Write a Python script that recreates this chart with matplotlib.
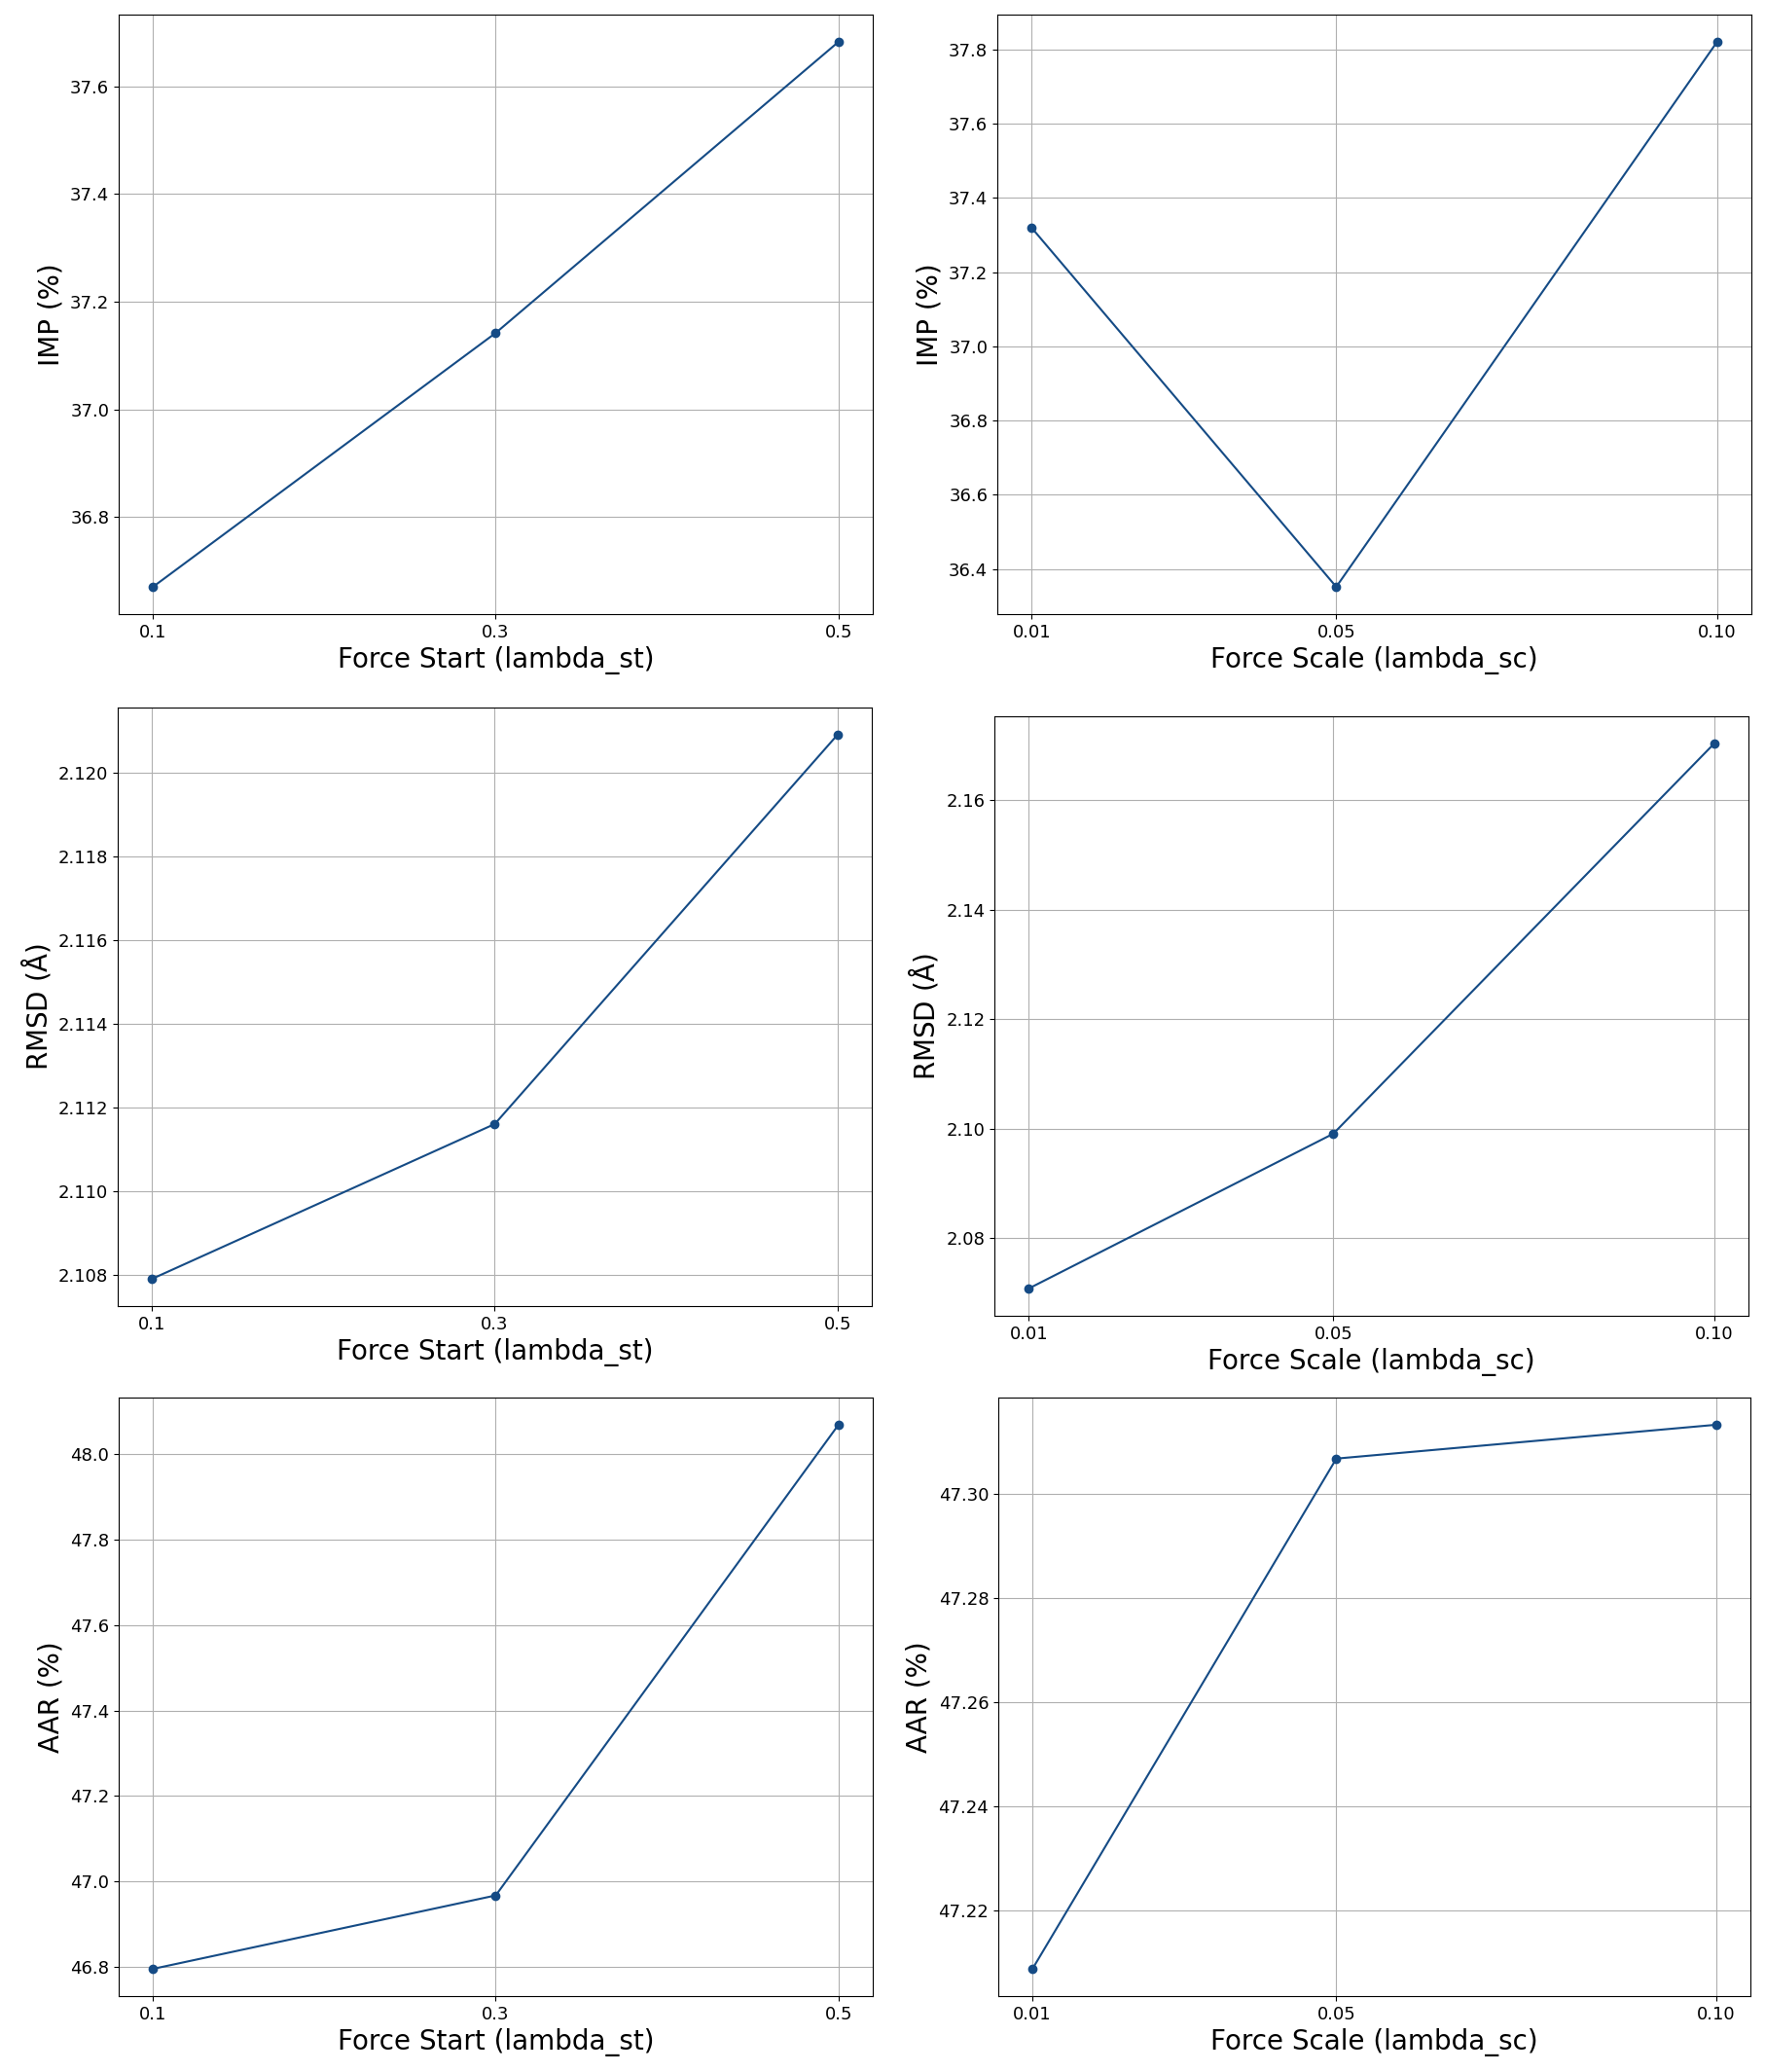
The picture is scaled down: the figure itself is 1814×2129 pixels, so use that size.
import matplotlib
matplotlib.use("Agg")
import matplotlib.pyplot as plt

# sweep settings
force_start = [0.1, 0.3, 0.5]
force_scale = [0.01, 0.05, 0.10]
start_ticks = ["0.1", "0.3", "0.5"]
scale_ticks = ["0.01", "0.05", "0.10"]

# metrics for the force start sweep
imp_start = [36.670, 37.142, 37.683]
rmsd_start = [2.1079, 2.1116, 2.1209]
aar_start = [46.795, 46.967, 48.069]

# metrics for the force scale sweep
imp_scale = [37.320, 36.352, 37.821]
rmsd_scale = [2.0708, 2.0991, 2.1704]
aar_scale = [47.2088, 47.3068, 47.3133]

W, H = 1815, 2129
color = "#154b85"


def box(x0, y0, x1, y1):
    # pixel box (top-left origin) -> figure fraction
    return [x0 / W, 1 - y1 / H, (x1 - x0) / W, (y1 - y0) / H]


fig = plt.figure(figsize=(W / 100, H / 100), dpi=100)

panels = [
    (box(122, 15, 897, 631), force_start, imp_start, start_ticks,
     "Force Start (lambda_st)", "IMP (%)"),
    (box(1025, 15, 1800, 631), force_scale, imp_scale, scale_ticks,
     "Force Scale (lambda_sc)", "IMP (%)"),
    (box(121, 727, 896, 1342), force_start, rmsd_start, start_ticks,
     "Force Start (lambda_st)", r"RMSD ($\mathrm{\AA}$)"),
    (box(1022, 736, 1797, 1352), force_scale, rmsd_scale, scale_ticks,
     "Force Scale (lambda_sc)", r"RMSD ($\mathrm{\AA}$)"),
    (box(122, 1436, 897, 2051), force_start, aar_start, start_ticks,
     "Force Start (lambda_st)", "AAR (%)"),
    (box(1026, 1436, 1799, 2051), force_scale, aar_scale, scale_ticks,
     "Force Scale (lambda_sc)", "AAR (%)"),
]

for rect, xs, ys, ticks, xlabel, ylabel in panels:
    ax = fig.add_axes(rect)
    ax.plot(xs, ys, marker="o", color=color, linewidth=1.5, markersize=6)
    ax.set_xticks(xs)
    ax.set_xticklabels(ticks)
    ax.tick_params(labelsize=13)
    ax.set_xlabel(xlabel, fontsize=20)
    ax.set_ylabel(ylabel, fontsize=20)
    ax.grid(True)

fig.savefig("out.png", dpi=100)
